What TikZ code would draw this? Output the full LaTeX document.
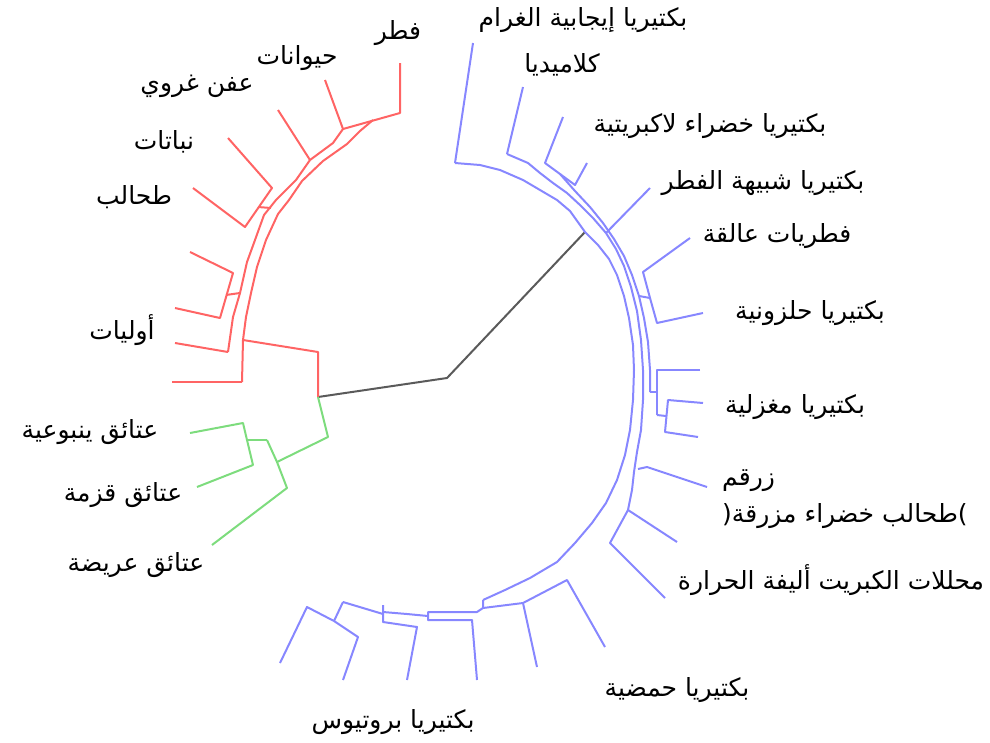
\documentclass[tikz,border=0pt]{standalone}
\usepackage{fontspec}
\newfontfamily\arabicfont[Script=Arabic]{DejaVu Sans}
\TeXXeTstate=1
\newcommand{\artxt}[1]{\beginR #1\endR}
\begin{document}
\begin{tikzpicture}[x=1pt,y=-1pt,
  euk/.style={draw={rgb,255:red,255;green,100;blue,100}, line width=2pt, line join=round},
  arc/.style={draw={rgb,255:red,125;green,220;blue,125}, line width=2pt, line join=round},
  bac/.style={draw={rgb,255:red,135;green,135;blue,255}, line width=2pt, line join=round},
  root/.style={draw={rgb,255:red,90;green,90;blue,90}, line width=2pt, line join=round},
  lbl/.style={font=\arabicfont\fontsize{25}{30}\selectfont, inner sep=0pt, text=black}]
\useasboundingbox (0,0) rectangle (990,742);

% ---------- root ----------
\coordinate (r0) at (318,397);
\coordinate (c0) at (447,378);
\coordinate (b0) at (585,232);
\draw[root] (r0) -- (c0) -- (b0);

% ---------- Eukaryota (red) ----------
\coordinate (fun) at (400,63);  \coordinate (funb) at (400,113);
\coordinate (ani) at (325,80);  \coordinate (anib) at (343,129);
\coordinate (sli) at (278,110); \coordinate (slib) at (310,160);
\coordinate (pla) at (228,138); \coordinate (plab) at (272,188);
\coordinate (alg) at (193,188); \coordinate (algb) at (245,227);
\coordinate (pg) at (190,252);  \coordinate (pgb) at (233,273);
\coordinate (ph) at (175,308);  \coordinate (phb) at (220,318);
\coordinate (pi) at (175,343);  \coordinate (pib) at (228,352);
\coordinate (pj) at (172,382);  \coordinate (pjb) at (242,382);
\coordinate (eu0) at (243,340);
\draw[euk] (fun) -- (funb) -- (anib);
\draw[euk] (ani) -- (anib);
\draw[euk] (sli) -- (slib);
\draw[euk] (pla) -- (plab) -- (algb) -- (alg);
\draw[euk] (258,207) -- (271,208);
\draw[euk] (pg) -- (pgb) -- (phb) -- (ph);
\draw[euk] (226,295) -- (240,293);
\draw[euk] (pi) -- (pib);
\draw[euk] (pj) -- (pjb);
% two trunk lines
\draw[euk] (anib) -- (333,143) -- (slib) -- (296,180) -- (276,200) -- (264,215) -- (255,240)
   -- (247,262) -- (240,293) -- (233,317) -- (pib);
\draw[euk] (373,120) -- (360,131) -- (347,144) -- (323,161) -- (302,181) -- (289,200)
   -- (278,214) -- (266,240) -- (257,267) -- (251,293) -- (246,317) -- (eu0) -- (pjb);
\draw[euk] (eu0) -- (318,352) -- (r0);

% ---------- Archaea (green) ----------
\coordinate (cre) at (190,433); \coordinate (creb) at (243,423);
\coordinate (nan) at (197,487); \coordinate (nanb) at (253,465);
\coordinate (eur) at (212,545); \coordinate (eurb) at (287,488);
\draw[arc] (r0) -- (328,437) -- (277,462);
\draw[arc] (267,440) -- (277,462) -- (eurb) -- (eur);
\draw[arc] (247,440) -- (267,440);
\draw[arc] (cre) -- (creb) -- (247,440) -- (nanb) -- (nan);

% ---------- Bacteria (blue) ----------
\coordinate (gp) at (473,43);   \coordinate (gpb) at (455,163);
\coordinate (chl) at (523,87);  \coordinate (chlb) at (507,154);
\coordinate (gns) at (563,117); \coordinate (gnsb) at (545,163);
\coordinate (unl) at (587,163); \coordinate (unlb) at (575,185);
\coordinate (act) at (650,188); \coordinate (actb) at (606,233);
\coordinate (pla2) at (690,238); \coordinate (pla2b) at (643,272);
\coordinate (spi) at (703,313); \coordinate (spib) at (657,323);
\coordinate (fu1) at (700,370); \coordinate (fu1b) at (657,370);
\coordinate (fu2) at (703,403); \coordinate (fu2b) at (668,400);
\coordinate (fu3) at (698,437); \coordinate (fu3b) at (665,432);
\coordinate (cya) at (707,487); \coordinate (cyab) at (647,467);
\coordinate (th1) at (677,542); \coordinate (th1b) at (628,510);
\coordinate (th2) at (665,598); \coordinate (th2b) at (610,543);
\coordinate (ac) at (605,647);  \coordinate (acb) at (567,580);
\coordinate (bb2) at (537,667); \coordinate (bb2b) at (523,603);
\coordinate (bb3) at (477,680); \coordinate (bb3b) at (472,620);
\coordinate (bb4) at (407,680); \coordinate (bb4b) at (417,627);
\coordinate (bb5) at (343,680); \coordinate (bb5b) at (358,637);
\coordinate (bb6) at (280,663); \coordinate (bb6b) at (307,607);

\draw[bac] (gp) -- (gpb);
\draw[bac] (chl) -- (chlb);
\draw[bac] (gns) -- (gnsb) -- (unlb) -- (unl);
\draw[bac] (act) -- (actb);
\draw[bac] (pla2) -- (pla2b) -- (650,298) -- (spib) -- (spi);
\draw[bac] (650,298) -- (639,296);
\draw[bac] (fu1) -- (fu1b) -- (657,415);
\draw[bac] (fu2) -- (fu2b) -- (fu3b) -- (fu3);
\draw[bac] (666,416) -- (657,415);
\draw[bac] (657,392) -- (650,392);
\draw[bac] (cya) -- (cyab) -- (638,469);
\draw[bac] (th1) -- (th1b);
\draw[bac] (632,490) -- (th1b) -- (th2b) -- (th2);
% bundle lines
\draw[bac] (gpb) -- (480,165) -- (500,170) -- (523,180) -- (540,190) -- (557,200) -- (570,211)
  -- (b0) -- (598,245) -- (609,259) -- (617,275) -- (624,296) -- (629,318) -- (633,345)
  -- (634,370) -- (633,400) -- (630,430) -- (625,455) -- (617,480) -- (606,503) -- (592,523)
  -- (575,543) -- (557,562) -- (530,578) -- (505,590) -- (483,600);
\draw[bac] (chlb) -- (528,163) -- (540,173) -- (553,183) -- (567,193) -- (580,205) -- (593,218)
  -- (actb) -- (616,249) -- (624,266) -- (631,287) -- (637,311) -- (641,340) -- (643,370)
  -- (643,400) -- (641,430) -- (637,452) -- (634,472) -- (632,490);
\draw[bac] (560,174) -- (575,191) -- (590,207) -- (603,223) -- (614,239) -- (624,256)
  -- (632,275) -- (639,296) -- (644,318) -- (648,342) -- (650,370) -- (650,392);
% bottom part
\draw[bac] (483,600) -- (483,608) -- (bb2b) -- (acb) -- (ac);
\draw[bac] (bb2b) -- (bb2);
\draw[bac] (483,608) -- (477,612) -- (428,612) -- (428,620) -- (bb3b) -- (bb3);
\draw[bac] (428,616) -- (407,614) -- (383,612);
\draw[bac] (383,605) -- (383,622) -- (bb4b) -- (bb4);
\draw[bac] (343,602) -- (383,614);
\draw[bac] (bb6) -- (bb6b) -- (334,621) -- (bb5b) -- (bb5);
\draw[bac] (334,621) -- (343,602);

% ---------- labels ----------
\node[lbl] (lfun) at (398,33) {\artxt{فطر}};
\node[lbl] (lani) at (297,58) {\artxt{حيوانات}};
\node[lbl] (lsli) at (197,86) {\artxt{عفن غروي}};
\node[lbl] (lpla) at (164,142) {\artxt{نباتات}};
\node[lbl] (lalg) at (134,197) {\artxt{طحالب}};
\node[lbl] (lpro) at (122,330) {\artxt{أوليات}};
\node[lbl] (lcre) at (90,432) {\artxt{عتائق ينبوعية}};
\node[lbl] (lnan) at (123,495) {\artxt{عتائق قزمة}};
\node[lbl] (leur) at (136,565) {\artxt{عتائق عريضة}};
\node[lbl] (lgp) at (583,20) {\artxt{بكتيريا إيجابية الغرام}};
\node[lbl] (lchl) at (562,65) {\artxt{كلاميديا}};
\node[lbl] (lgns) at (710,126) {\artxt{بكتيريا خضراء لاكبريتية}};
\node[lbl] (lact) at (763,183) {\artxt{بكتيريا شبيهة الفطر}};
\node[lbl] (lpl) at (777,236) {\artxt{فطريات عالقة}};
\node[lbl] (lspi) at (810,313) {\artxt{بكتيريا حلزونية}};
\node[lbl] (lfus) at (795,407) {\artxt{بكتيريا مغزلية}};
\node[lbl, align=left, anchor=north west, font=\arabicfont\fontsize{25}{37}\selectfont] (lcya) at (722,469) {\artxt{زرقم}\\(\artxt{طحالب خضراء مزرقة})};
\node[lbl] (lthe) at (831,580) {\artxt{محللات الكبريت أليفة الحرارة}};
\node[lbl] (laci) at (677,690) {\artxt{بكتيريا حمضية}};
\node[lbl] (lpro2) at (393,722) {\artxt{بكتيريا بروتيوس}};
\end{tikzpicture}
\end{document}
